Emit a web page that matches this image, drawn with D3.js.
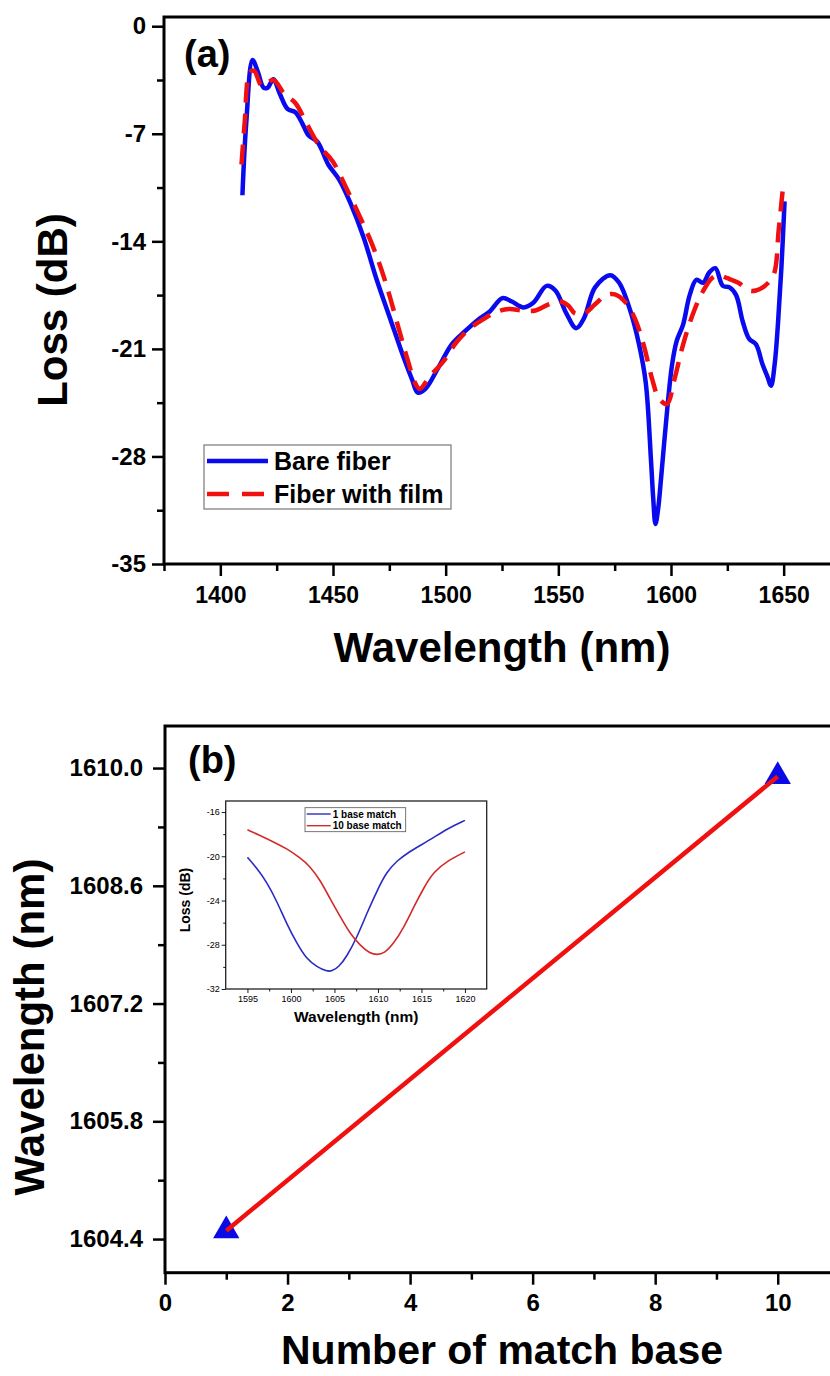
<!DOCTYPE html>
<html>
<head>
<meta charset="utf-8">
<script src="https://cdn.jsdelivr.net/npm/d3@7"></script>
<style>
  body { margin: 0; background: #fff; }
  svg { display: block; }
  text { font-family: Arial, "Liberation Sans", sans-serif; font-weight: bold; fill: #000; }
  .axis path { display: none; }
  .axis line { stroke: #000; stroke-width: 2.5; }
  .inset .axis line { stroke-width: 0.9; }
</style>
</head>
<body>
<svg id="chart" width="830" height="1376"></svg>
<script>
// ---- panel (a): loss spectra ----
var bareWl = [1409.8,1411.5,1414.3,1416.5,1419.2,1421,1423.5,1426.4,1429.9,1433.3,1436.3,1439.1,1443,1447.9,1452.8,1457.7,1463.6,1469.4,1475.3,1481.2,1485.1,1487.6,1491,1496.8,1502.7,1508.6,1514.4,1519.3,1525.2,1529.1,1534.6,1538.9,1544.8,1548.7,1553.6,1557.9,1561.4,1566.3,1573.1,1577,1581.9,1585.8,1588.8,1591.1,1592.1,1593.1,1594.3,1595.6,1598.6,1600.5,1602.5,1605.4,1608.3,1611.3,1614.2,1617.1,1619.7,1623,1626,1628.9,1631.8,1634.7,1637.7,1640.6,1642.8,1644.4,1646,1647.5,1649,1650.4];
var bareLoss = [-11.0,-6.3,-2.2,-2.9,-4.0,-4.0,-3.45,-4.4,-5.4,-5.6,-6.3,-7.1,-7.5,-9.0,-10.0,-11.5,-13.75,-16.5,-19.0,-21.5,-23.0,-23.85,-23.6,-22.2,-20.7,-19.85,-19.1,-18.6,-17.7,-17.9,-18.3,-18.0,-16.9,-17.2,-18.7,-19.65,-19.0,-17.0,-16.2,-16.7,-18.5,-20.7,-23.2,-28.2,-30.7,-32.4,-31.4,-29.4,-24.5,-22.0,-20.5,-19.4,-17.5,-16.5,-16.7,-16.0,-15.75,-16.9,-17.0,-17.5,-19.2,-20.35,-20.7,-22.0,-22.8,-23.4,-22.0,-19.3,-15.7,-11.4];

var filmWl = [1409.4,1410.8,1413.1,1415,1418.6,1423.5,1428.4,1433.3,1438.2,1444,1449.9,1455.8,1461.6,1467.5,1473.4,1479.2,1483.1,1486.7,1488.5,1492.9,1498.8,1504.6,1510.5,1516.4,1522.3,1528.1,1534,1539.9,1545.7,1550.6,1554.5,1557.4,1561.4,1566.3,1571.2,1575.1,1580,1583.9,1587.8,1591.7,1594.6,1598.2,1601.5,1605.4,1610.3,1614.2,1618.1,1621.1,1625,1629.9,1634.7,1637.7,1641.6,1645.5,1647.8,1649.8];
var filmLoss = [-9.0,-6.3,-3.0,-2.9,-3.9,-3.5,-4.4,-5.0,-6.3,-7.8,-8.8,-10.5,-12.3,-14.25,-16.7,-19.7,-21.7,-23.3,-23.6,-22.8,-21.85,-20.6,-19.7,-19.1,-18.6,-18.4,-18.5,-18.5,-18.1,-17.9,-18.2,-18.7,-18.7,-18.1,-17.5,-17.45,-18.0,-19.0,-20.7,-23.0,-24.2,-24.6,-23.0,-20.7,-18.5,-17.25,-16.4,-16.2,-16.4,-16.7,-17.2,-17.2,-16.9,-16.2,-13.25,-10.3];

var seriesNamesA = ["Bare fiber", "Fiber with film"];
var wlTicksA = [1400,1450,1500,1550,1600,1650];
var wlMinorA = [1375,1425,1475,1525,1575,1625,1675];
var lossTicksA = [0,-7,-14,-21,-28,-35];
var lossMinorA = [-3.5,-10.5,-17.5,-24.5,-31.5];

// ---- panel (b): resonance shift ----
var matchBase = [1, 10];
var dipWl = [1604.5, 1609.9];
var baseTicksB = [0,2,4,6,8,10];
var baseMinorB = [1,3,5,7,9,11];
var wlTicksB = [1604.4,1605.8,1607.2,1608.6,1610.0];
var wlMinorB = [1605.1,1606.5,1607.9,1609.3];

// ---- inset of (b) ----
var ins1Wl = [1595,1596,1597.2,1598.4,1599.5,1600.7,1601.8,1603,1604.1,1604.7,1605.5,1606.4,1607.6,1608.7,1609.9,1611,1612.2,1613.4,1614.9,1616.4,1618,1620];
var ins1Loss = [-20.1,-21.0,-22.3,-24.1,-26.1,-27.9,-29.3,-30.0,-30.4,-30.4,-30.0,-29.1,-27.3,-25.2,-23.1,-21.4,-20.4,-19.7,-19.0,-18.3,-17.5,-16.75];
var ins10Wl = [1595,1596.4,1598,1599.5,1601,1602.2,1603.4,1604.5,1605.7,1606.8,1608,1609.1,1609.9,1610.7,1611.8,1613,1614.1,1615.3,1616.4,1618,1620];
var ins10Loss = [-17.6,-18.1,-18.7,-19.3,-20.1,-20.9,-22.2,-23.85,-25.5,-27.0,-28.1,-28.8,-28.9,-28.8,-27.9,-26.4,-24.6,-22.8,-21.4,-20.4,-19.6];
var insetNames = ["1 base match", "10 base match"];
var insWlTicks = [1595,1600,1605,1610,1615,1620];
var insWlMinor = [1597.5,1602.5,1607.5,1612.5,1617.5];
var insLossTicks = [-32,-28,-24,-20,-16];
var insLossMinor = [-30,-26,-22,-18];

var svg = d3.select("#chart");
var plain = function(d){ return String(d); };

function addAxis(g, axisFn, scale, major, minor, size, minorSize, pad, fmt, fontSize){
  g.append("g").attr("class","axis")
    .call(axisFn(scale).tickValues(minor).tickSize(minorSize).tickFormat(""));
  var ax = g.append("g").attr("class","axis")
    .call(axisFn(scale).tickValues(major).tickSize(size).tickPadding(pad).tickFormat(fmt));
  ax.selectAll("text").style("font-size", fontSize + "px").attr("fill","#000");
  return ax;
}

// ================= panel (a) =================
var xA = d3.scaleLinear().domain([1375,1675]).range([164,840]);
var yA = d3.scaleLinear().domain([-35,0.6]).range([564,17]);
var gA = svg.append("g");

var lineA = d3.line().x(function(d){ return xA(d[0]); }).y(function(d){ return yA(d[1]); })
  .curve(d3.curveCatmullRom.alpha(0.5));

gA.append("path").datum(d3.zip(bareWl, bareLoss))
  .attr("d", lineA).attr("fill","none").attr("stroke","#0a0aee").attr("stroke-width",4.5)
  .attr("stroke-linejoin","round");
gA.append("path").datum(d3.zip(filmWl, filmLoss))
  .attr("d", lineA).attr("fill","none").attr("stroke","#f01010").attr("stroke-width",4.5)
  .attr("stroke-dasharray","20,11");

gA.append("rect").attr("x",xA(1375)).attr("y",yA(0.6))
  .attr("width",xA(1675)-xA(1375)).attr("height",yA(-35)-yA(0.6))
  .attr("fill","none").attr("stroke","#000").attr("stroke-width",3);

addAxis(gA.append("g").attr("transform","translate(0,"+yA(-35)+")"), d3.axisBottom, xA,
  wlTicksA, wlMinorA, 12, 7, 10.5, plain, 23);
addAxis(gA.append("g").attr("transform","translate("+xA(1375)+",0)"), d3.axisLeft, yA,
  lossTicksA, lossMinorA, 12, 7, 6, plain, 24);

gA.append("text").attr("x",184).attr("y",67).style("font-size","38px").text("(a)");

gA.append("text").attr("x",502).attr("y",662).attr("text-anchor","middle")
  .style("font-size","42px").text("Wavelength (nm)");
gA.append("text").attr("transform","translate(67,310) rotate(-90)").attr("text-anchor","middle")
  .style("font-size","42px").text("Loss (dB)");

// legend (a)
var legA = gA.append("g");
legA.append("rect").attr("x",204).attr("y",445).attr("width",247).attr("height",64)
  .attr("fill","#fff").attr("stroke","#777").attr("stroke-width",1.2);
var legStyles = [{c:"#0a0aee", dash:null}, {c:"#f01010", dash:"22,13"}];
seriesNamesA.forEach(function(name, i){
  var yy = 461 + i*33;
  legA.append("line").attr("x1",207).attr("x2",268).attr("y1",yy).attr("y2",yy)
    .attr("stroke",legStyles[i].c).attr("stroke-width",4.5)
    .attr("stroke-dasharray",legStyles[i].dash);
  legA.append("text").attr("x",274).attr("y",yy+9).style("font-size","25px").text(name);
});

// ================= panel (b) =================
var xB = d3.scaleLinear().domain([0,11]).range([165,839]);
var yB = d3.scaleLinear().domain([1604,1610.5]).range([1272.7,726]);
var gB = svg.append("g");

gB.append("rect").attr("x",xB(0)).attr("y",yB(1610.5))
  .attr("width",xB(11)-xB(0)).attr("height",yB(1604)-yB(1610.5))
  .attr("fill","none").attr("stroke","#000").attr("stroke-width",3);

addAxis(gB.append("g").attr("transform","translate(0,"+yB(1604)+")"), d3.axisBottom, xB,
  baseTicksB, baseMinorB, 12, 7, 9.5, plain, 24);
addAxis(gB.append("g").attr("transform","translate("+xB(0)+",0)"), d3.axisLeft, yB,
  wlTicksB, wlMinorB, 12, 7, 10, d3.format(".1f"), 24);

var ptsB = d3.zip(matchBase, dipWl);
gB.selectAll(".tri").data(ptsB).enter().append("path").attr("class","tri")
  .attr("d", d3.symbol().type(d3.symbolTriangle).size(300))
  .attr("transform", function(d){ return "translate("+xB(d[0])+","+yB(d[1])+")"; })
  .attr("fill","#0a0ae6");
gB.append("path").datum(ptsB)
  .attr("d", d3.line().x(function(d){ return xB(d[0]); }).y(function(d){ return yB(d[1]); }))
  .attr("fill","none").attr("stroke","#f01010").attr("stroke-width",4.5);

gB.append("text").attr("x",188).attr("y",773).style("font-size","38px").text("(b)");
gB.append("text").attr("x",502).attr("y",1364).attr("text-anchor","middle")
  .style("font-size","41px").text("Number of match base");
gB.append("text").attr("transform","translate(44,1027) rotate(-90)").attr("text-anchor","middle")
  .style("font-size","42px").text("Wavelength (nm)");

// ---- inset ----
var xI = d3.scaleLinear().domain([1592.5,1622.5]).range([225.7,486.7]);
var yI = d3.scaleLinear().domain([-32,-15]).range([989,801]);
var gI = svg.append("g").attr("class","inset");

var lineI = d3.line().x(function(d){ return xI(d[0]); }).y(function(d){ return yI(d[1]); })
  .curve(d3.curveBasis);
var insColors = ["#2b2bc4", "#d32b2b"];
gI.append("path").datum(d3.zip(ins1Wl, ins1Loss)).attr("d", lineI)
  .attr("fill","none").attr("stroke",insColors[0]).attr("stroke-width",1.6);
gI.append("path").datum(d3.zip(ins10Wl, ins10Loss)).attr("d", lineI)
  .attr("fill","none").attr("stroke",insColors[1]).attr("stroke-width",1.6);

gI.append("rect").attr("x",xI(1592.5)).attr("y",yI(-15))
  .attr("width",xI(1622.5)-xI(1592.5)).attr("height",yI(-32)-yI(-15))
  .attr("fill","none").attr("stroke","#222").attr("stroke-width",1.3);

var axIx = addAxis(gI.append("g").attr("transform","translate(0,"+yI(-32)+")"), d3.axisBottom, xI,
  insWlTicks, insWlMinor, 4, 2.5, 2.5, plain, 9);
var axIy = addAxis(gI.append("g").attr("transform","translate("+xI(1592.5)+",0)"), d3.axisLeft, yI,
  insLossTicks, insLossMinor, 4, 2.5, 2, plain, 9);
axIx.selectAll("text").style("font-weight","normal").attr("fill","#222");
axIy.selectAll("text").style("font-weight","normal").attr("fill","#222");

gI.append("text").attr("x",xI(1607.5)).attr("y",1022).attr("text-anchor","middle")
  .style("font-size","15.5px").attr("fill","#222").text("Wavelength (nm)");
gI.append("text").attr("transform","translate(190,900) rotate(-90)").attr("text-anchor","middle")
  .style("font-size","14px").attr("fill","#222").text("Loss (dB)");

var legI = gI.append("g");
legI.append("rect").attr("x",305).attr("y",807.7).attr("width",100.7).attr("height",24)
  .attr("fill","#fff").attr("stroke","#555").attr("stroke-width",0.8);
insetNames.forEach(function(name, i){
  var yy = 814 + i*11.7;
  legI.append("line").attr("x1",306.7).attr("x2",330.7).attr("y1",yy).attr("y2",yy)
    .attr("stroke",insColors[i]).attr("stroke-width",1.4);
  legI.append("text").attr("x",332.7).attr("y",yy+3.5).style("font-size","10px").text(name);
});
</script>
</body>
</html>
